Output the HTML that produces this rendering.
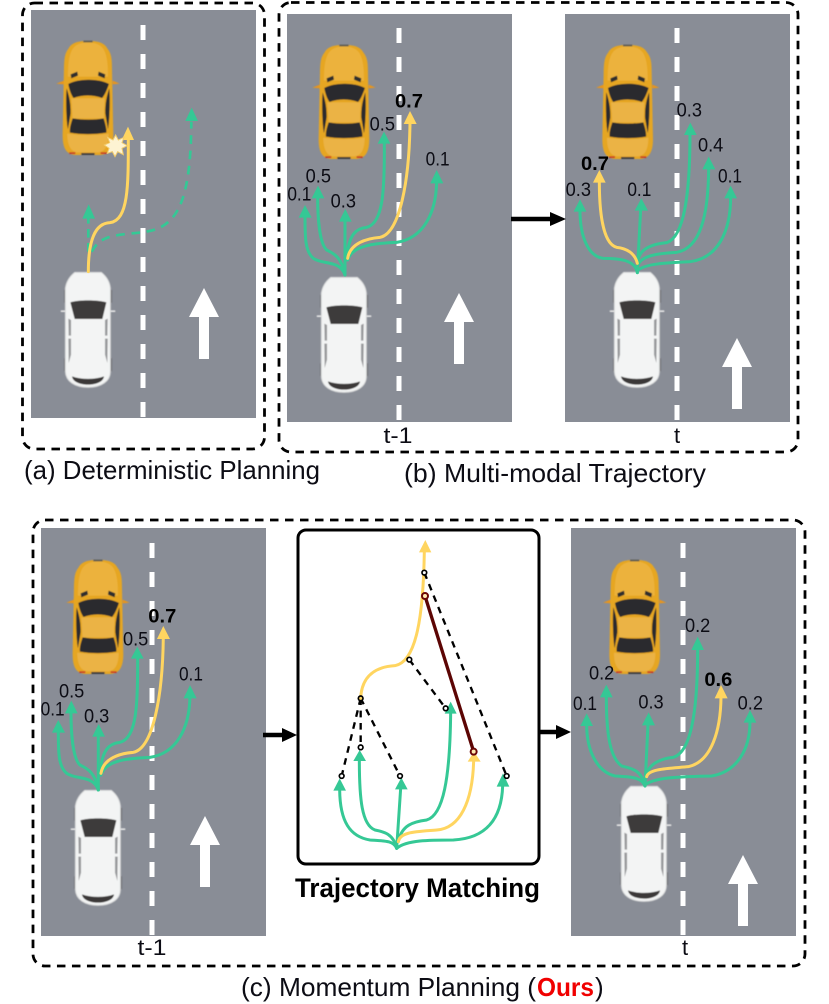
<!DOCTYPE html>
<html>
<head>
<meta charset="utf-8">
<style>
html,body{margin:0;padding:0;background:#fff;}
svg{display:block;}
text{font-family:"Liberation Sans",sans-serif;fill:#0c0c14;}
.n{font-size:58px;text-anchor:middle;}
.b{font-size:58px;text-anchor:middle;font-weight:bold;fill:#000;}
.g{fill:none;stroke:#35c895;stroke-width:9;stroke-linecap:round;}
.y{fill:none;stroke:#ffd560;stroke-width:9;stroke-linecap:round;}
.gh{fill:#35c895;}
.yh{fill:#ffd560;}
.f{fill:none;stroke:#000;stroke-width:2.8;stroke-dasharray:8.5 6.5;}
.c{font-size:26px;}
.t{font-size:22px;text-anchor:middle;}
</style>
</head>
<body>
<svg width="829" height="1004" viewBox="0 0 829 1004" xmlns="http://www.w3.org/2000/svg">
<defs>
<filter id="bl" x="-5%" y="-5%" width="110%" height="110%"><feGaussianBlur stdDeviation="1.2"/></filter>
<g id="road">
  <rect x="0" y="0" width="225" height="408" fill="#898d96"/>
</g>
<g id="yc" filter="url(#bl)">
  <path d="M3 146 L26 137 L26 148 Z M193 146 L172 137 L172 148 Z" fill="#e8951c"/>
  <path d="M98 18 C70 18 50 22 40 40 C28 55 27 70 26 100 L22 300 C22 335 30 358 60 360 L136 360 C165 358 174 335 174 300 L170 100 C170 70 168 55 156 40 C146 22 126 18 98 18Z" fill="#e6a622"/>
  <path d="M98 22 C75 22 58 30 50 45 C40 65 38 90 38 125 L158 125 C158 90 156 65 146 45 C138 30 121 22 98 22Z" fill="#ecb23c"/>
  <path d="M48 190 L148 190 L146 250 L52 250Z" fill="#ebb345"/>
  <path d="M36 296 C70 302 125 302 160 296 C160 330 150 350 130 352 L66 352 C46 350 36 330 36 296Z" fill="#ebb345"/>
  <path d="M39 147 C70 130 130 130 161 147 C155 165 147 183 140 189 C115 179 80 179 55 189 C49 183 42 165 39 147Z" fill="#2b2b2d"/>
  <path d="M52 250 C80 255 120 255 145 250 C150 265 155 285 153 293 C120 299 75 299 44 293 C42 280 48 262 52 250Z" fill="#2b2b2d"/>
  <path d="M34 160 C41 180 47 205 46 236 L38 282 C33 260 31 190 34 160Z M162 160 C155 180 149 205 150 236 L158 282 C163 260 165 190 162 160Z" fill="#2b2b2d"/>
  <path d="M46 118 L66 110 L68 122 L48 130Z M150 118 L130 110 L128 122 L148 130Z" fill="#2e2e2e"/>
  <rect x="84" y="17" width="28" height="5" fill="#5a5a52"/>
  <rect x="78" y="354" width="40" height="6" fill="#3c3c3c"/>
  <rect x="42" y="352" width="18" height="5" fill="#c83028"/>
  <rect x="136" y="352" width="18" height="5" fill="#c83028"/>
</g>
<g id="wc" filter="url(#bl)">
  <rect x="18" y="127" width="16" height="5" rx="2" fill="#e6e6e6"/>
  <rect x="166" y="127" width="16" height="5" rx="2" fill="#e6e6e6"/>
  <rect x="28" y="65" width="6" height="40" rx="3" fill="#6a6b6f"/>
  <rect x="166" y="65" width="6" height="40" rx="3" fill="#6a6b6f"/>
  <rect x="28" y="270" width="6" height="40" rx="3" fill="#6a6b6f"/>
  <rect x="166" y="270" width="6" height="40" rx="3" fill="#6a6b6f"/>
  <path d="M60 13 L140 13 C155 25 165 40 167 60 L167 310 C167 340 140 358 100 358 C60 358 33 340 32 310 L32 60 C35 40 45 25 60 13Z" fill="#f3f4f4" stroke="#d8d9d9" stroke-width="3"/>
  <path d="M47 103 C70 95 130 95 155 103 L143 153 L60 153Z" fill="#3e3b3a"/>
  <path d="M41 152 L49 156 L49 203 L42 203Z M41 212 L49 212 L49 260 L42 285Z M159 152 L151 156 L151 203 L158 203Z M159 212 L151 212 L151 260 L158 285Z" fill="#98999b"/>
  <path d="M52 325 C80 335 120 335 148 325 C146 343 120 350 100 350 C80 350 54 343 52 325Z" fill="#3a3838"/>
</g>
<g id="arrow">
  <polygon points="0,0 15,29 5,29 5,71 -5,71 -5,29 -15,29" fill="#fff"/>
</g>
<g id="tl">
  <path class="g" d="M195 735 C180 690 130 705 100 685 C75 665 75 620 75 560"/>
  <polygon class="gh" points="75,525 95,563 56,563"/>
  <path class="g" d="M195 735 C185 680 160 670 140 660 C118 640 113 560 113 500"/>
  <polygon class="gh" points="114,467 133,505 95,505"/>
  <path class="g" d="M195 735 L195 570"/>
  <polygon class="gh" points="196,537 215,575 177,575"/>
  <path class="g" d="M200 690 C205 610 230 595 260 592 C310 580 314 480 313 335"/>
  <polygon class="gh" points="312,305 331,341 293,341"/>
  <path class="g" d="M203 690 C215 650 270 640 350 637 C430 625 468 550 470 455"/>
  <polygon class="gh" points="470,420 490,460 451,460"/>
  <path class="y" d="M203 685 C210 640 260 625 300 622 C360 610 388 450 390 278"/>
  <polygon class="yh" points="390,243 410,282 371,282"/>
</g>
</defs>

<!-- frames -->
<rect class="f" x="22.5" y="3" width="242" height="446" rx="12"/>
<rect class="f" x="279" y="2.5" width="519" height="449.5" rx="12"/>
<rect class="f" x="33" y="520" width="772" height="446" rx="12"/>

<!-- Panel a -->
<use href="#road" x="31" y="10"/>
<line x1="143" y1="25" x2="143" y2="418" stroke="#fff" stroke-width="5" stroke-dasharray="15 14"/>
<use href="#yc" transform="translate(55.3,35) scale(0.3333)"/>
<use href="#wc" transform="translate(54.7,268) scale(0.3333)"/>
<use href="#arrow" x="204" y="288"/>
<g transform="translate(20,0) scale(0.33333)">
  <path d="M205 755 L205 655" fill="none" stroke="#35c895" stroke-width="8" stroke-dasharray="26 16"/>
  <polygon class="gh" points="206,613 225,656 187,656"/>
  <path d="M215 755 C235 720 255 710 310 703 C370 695 420 700 460 650 C500 600 513 500 514 365" fill="none" stroke="#35c895" stroke-width="8" stroke-dasharray="26 20"/>
  <polygon class="gh" points="515,323 534,363 496,363"/>
  <path class="y" d="M205 815 C205 720 225 670 270 668 C325 660 325 560 325 418"/>
  <polygon class="yh" points="324,380 342,420 305,420"/>
  <polygon points="287,405 295,420 312,412 306,428 322,437 306,445 310,464 293,455 285,470 277,455 262,460 267,445 253,435 269,428 263,412 279,420" fill="#fdf3d2" stroke="#f1cb6b" stroke-width="3"/>
</g>

<!-- Panel b left -->
<use href="#road" x="287" y="14"/>
<line x1="399" y1="28" x2="399" y2="422" stroke="#fff" stroke-width="5" stroke-dasharray="15 14"/>
<use href="#yc" transform="translate(311.3,39) scale(0.3333)"/>
<use href="#wc" transform="translate(310.7,273) scale(0.3333)"/>
<use href="#arrow" x="459" y="293"/>
<g transform="translate(280,30) scale(0.33333)">
  <use href="#tl"/>
  <text class="n" x="58" y="512" textLength="72" lengthAdjust="spacingAndGlyphs">0.1</text>
  <text class="n" x="115" y="457" textLength="76" lengthAdjust="spacingAndGlyphs">0.5</text>
  <text class="n" x="190" y="533" textLength="76" lengthAdjust="spacingAndGlyphs">0.3</text>
  <text class="n" x="307" y="302" textLength="76" lengthAdjust="spacingAndGlyphs">0.5</text>
  <text class="b" x="387" y="233" textLength="84" lengthAdjust="spacingAndGlyphs">0.7</text>
  <text class="n" x="473" y="407" textLength="72" lengthAdjust="spacingAndGlyphs">0.1</text>
</g>
<text class="t" x="398" y="443" textLength="29" lengthAdjust="spacingAndGlyphs">t-1</text>

<!-- Panel b right -->
<use href="#road" x="565" y="14"/>
<line x1="677" y1="28" x2="677" y2="422" stroke="#fff" stroke-width="5" stroke-dasharray="15 14"/>
<use href="#yc" transform="translate(595,39) scale(0.3333)"/>
<use href="#wc" transform="translate(603.7,268) scale(0.3333)"/>
<use href="#arrow" x="737" y="338"/>
<g transform="translate(560,90) scale(0.33333)">
  <path class="g" d="M232 548 C225 510 180 505 130 505 C85 500 60 440 60 362"/>
  <polygon class="gh" points="60,328 79,365 41,365"/>
  <path class="g" d="M232 548 L242 358"/>
  <polygon class="gh" points="244,325 264,362 224,362"/>
  <path class="g" d="M234 510 C240 475 280 462 320 458 C375 440 390 300 390 130"/>
  <polygon class="gh" points="391,98 410,135 372,135"/>
  <path class="g" d="M234 525 C245 495 300 490 350 487 C420 475 445 380 446 234"/>
  <polygon class="gh" points="446,200 466,238 427,238"/>
  <path class="g" d="M234 540 C260 520 330 518 390 515 C470 505 512 430 512 320"/>
  <polygon class="gh" points="512,287 531,325 493,325"/>
  <path class="y" d="M232 520 C225 490 200 475 170 472 C125 460 118 350 118 274"/>
  <polygon class="yh" points="118,240 137,278 99,278"/>
  <text class="n" x="55" y="318" textLength="76" lengthAdjust="spacingAndGlyphs">0.3</text>
  <text class="b" x="105" y="240" textLength="84" lengthAdjust="spacingAndGlyphs">0.7</text>
  <text class="n" x="238" y="318" textLength="72" lengthAdjust="spacingAndGlyphs">0.1</text>
  <text class="n" x="388" y="80" textLength="76" lengthAdjust="spacingAndGlyphs">0.3</text>
  <text class="n" x="452" y="185" textLength="76" lengthAdjust="spacingAndGlyphs">0.4</text>
  <text class="n" x="510" y="278" textLength="72" lengthAdjust="spacingAndGlyphs">0.1</text>
</g>
<text class="t" x="677" y="443">t</text>

<!-- arrow between b panels -->
<path d="M511 219 L552 219" stroke="#000" stroke-width="4.5"/>
<polygon points="566,219 550,212 550,226" fill="#000"/>

<!-- Panel c left -->
<use href="#road" x="41" y="528"/>
<line x1="152" y1="543" x2="152" y2="936" stroke="#fff" stroke-width="5" stroke-dasharray="15 14"/>
<use href="#yc" transform="translate(65.3,554) scale(0.3333)"/>
<use href="#wc" transform="translate(64.7,786) scale(0.3333)"/>
<use href="#arrow" x="205" y="816"/>
<g transform="translate(33.3,545) scale(0.33333)">
  <use href="#tl"/>
  <text class="n" x="58" y="512" textLength="72" lengthAdjust="spacingAndGlyphs">0.1</text>
  <text class="n" x="115" y="457" textLength="76" lengthAdjust="spacingAndGlyphs">0.5</text>
  <text class="n" x="190" y="533" textLength="76" lengthAdjust="spacingAndGlyphs">0.3</text>
  <text class="n" x="307" y="302" textLength="76" lengthAdjust="spacingAndGlyphs">0.5</text>
  <text class="b" x="387" y="233" textLength="84" lengthAdjust="spacingAndGlyphs">0.7</text>
  <text class="n" x="473" y="407" textLength="72" lengthAdjust="spacingAndGlyphs">0.1</text>
</g>
<text class="t" x="152" y="955" textLength="29" lengthAdjust="spacingAndGlyphs">t-1</text>

<!-- Middle box -->
<rect x="298" y="530" width="241" height="334" rx="8" fill="#fff" stroke="#000" stroke-width="3"/>
<g transform="translate(290,525) scale(0.33333)">
  <path class="g" d="M320 970 C310 945 280 948 240 945 C180 935 150 890 149 795"/>
  <polygon class="gh" points="149,760 168,797 130,797"/>
  <path class="g" d="M320 970 C310 925 280 920 255 915 C215 900 208 820 208 705"/>
  <polygon class="gh" points="209,675 228,708 190,708"/>
  <path class="g" d="M320 970 L332 790"/>
  <polygon class="gh" points="334,758 353,793 315,793"/>
  <path class="g" d="M325 950 C335 900 370 890 410 885 C460 870 480 760 482 562"/>
  <polygon class="gh" points="482,530 500,566 464,566"/>
  <path class="y" d="M325 950 C330 920 380 920 440 915 C510 910 548 830 551 706"/>
  <polygon class="yh" points="552,680 572,710 533,710"/>
  <path class="g" d="M320 970 C350 945 420 945 490 945 C590 940 635 880 638 782"/>
  <polygon class="gh" points="639,745 658,785 620,785"/>
  <path class="y" d="M212 520 C215 450 260 425 315 422 C380 410 400 270 403 78"/>
  <polygon class="yh" points="406,45 424,82 387,82"/>
  <g fill="none" stroke="#000" stroke-width="7" stroke-dasharray="20 17">
    <path d="M403 143 L650 753"/>
    <path d="M358 404 L467 550"/>
    <path d="M212 520 L155 753"/>
    <path d="M212 520 L212 667"/>
    <path d="M212 520 L330 753"/>
  </g>
  <path d="M405 213 L551 680" stroke="#5c0504" stroke-width="10" fill="none"/>
  <g fill="#fff" stroke="#000" stroke-width="5">
    <circle cx="403" cy="143" r="7"/>
    <circle cx="358" cy="404" r="7"/>
    <circle cx="467" cy="550" r="7"/>
    <circle cx="650" cy="753" r="7"/>
    <circle cx="155" cy="753" r="7"/>
    <circle cx="212" cy="667" r="7"/>
    <circle cx="330" cy="753" r="7"/>
  </g>
  <circle cx="212" cy="520" r="7" fill="#ffd560" stroke="#000" stroke-width="5"/>
  <circle cx="405" cy="213" r="9" fill="#ffe9b0" stroke="#6a0505" stroke-width="6"/>
  <circle cx="551" cy="680" r="9" fill="#ffe9b0" stroke="#6a0505" stroke-width="6"/>
</g>
<text x="295" y="897" font-size="27" font-weight="bold" textLength="245" lengthAdjust="spacingAndGlyphs" style="fill:#000">Trajectory Matching</text>

<!-- c arrows -->
<path d="M263 735 L284 735" stroke="#000" stroke-width="4.5"/>
<polygon points="297,735 282,728 282,742" fill="#000"/>
<path d="M539 732 L558 732" stroke="#000" stroke-width="4.5"/>
<polygon points="571,732 556,725 556,739" fill="#000"/>

<!-- Panel c right -->
<use href="#road" x="571" y="528"/>
<line x1="683" y1="543" x2="683" y2="936" stroke="#fff" stroke-width="5" stroke-dasharray="15 14"/>
<use href="#yc" transform="translate(602,554) scale(0.3333)"/>
<use href="#wc" transform="translate(610.7,782) scale(0.3333)"/>
<use href="#arrow" x="743" y="855"/>
<g transform="translate(565,600) scale(0.33333)">
  <path class="g" d="M240 558 C230 530 190 530 150 528 C95 515 65 450 65 375"/>
  <polygon class="gh" points="65,340 84,378 46,378"/>
  <path class="g" d="M240 558 C230 510 200 505 170 498 C130 470 124 380 124 288"/>
  <polygon class="gh" points="124,254 143,292 105,292"/>
  <path class="g" d="M240 558 L249 372"/>
  <polygon class="gh" points="251,337 270,376 231,376"/>
  <path class="g" d="M243 530 C250 490 290 475 325 472 C385 455 398 300 398 146"/>
  <polygon class="gh" points="398,110 417,150 379,150"/>
  <path class="g" d="M240 555 C270 530 360 530 440 528 C515 515 555 450 555 364"/>
  <polygon class="gh" points="555,330 574,368 536,368"/>
  <path class="y" d="M245 530 C250 505 320 505 370 500 C440 485 467 390 468 291"/>
  <polygon class="yh" points="468,255 488,295 449,295"/>
  <text class="n" x="60" y="330" textLength="72" lengthAdjust="spacingAndGlyphs">0.1</text>
  <text class="n" x="110" y="238" textLength="76" lengthAdjust="spacingAndGlyphs">0.2</text>
  <text class="n" x="258" y="326" textLength="76" lengthAdjust="spacingAndGlyphs">0.3</text>
  <text class="n" x="398" y="96" textLength="76" lengthAdjust="spacingAndGlyphs">0.2</text>
  <text class="b" x="460" y="258" textLength="84" lengthAdjust="spacingAndGlyphs">0.6</text>
  <text class="n" x="556" y="328" textLength="76" lengthAdjust="spacingAndGlyphs">0.2</text>
</g>
<text class="t" x="685" y="955">t</text>

<!-- captions -->
<text class="c" x="24" y="479" textLength="296" lengthAdjust="spacingAndGlyphs">(a) Deterministic Planning</text>
<text class="c" x="404" y="482" textLength="302" lengthAdjust="spacingAndGlyphs">(b) Multi-modal Trajectory</text>
<text class="c" x="241" y="996" textLength="295" lengthAdjust="spacingAndGlyphs">(c) Momentum Planning (</text>
<text class="c" x="537" y="996" font-weight="bold" textLength="57" lengthAdjust="spacingAndGlyphs" style="fill:#f00000">Ours</text>
<text class="c" x="595" y="996">)</text>
</svg>
</body>
</html>
